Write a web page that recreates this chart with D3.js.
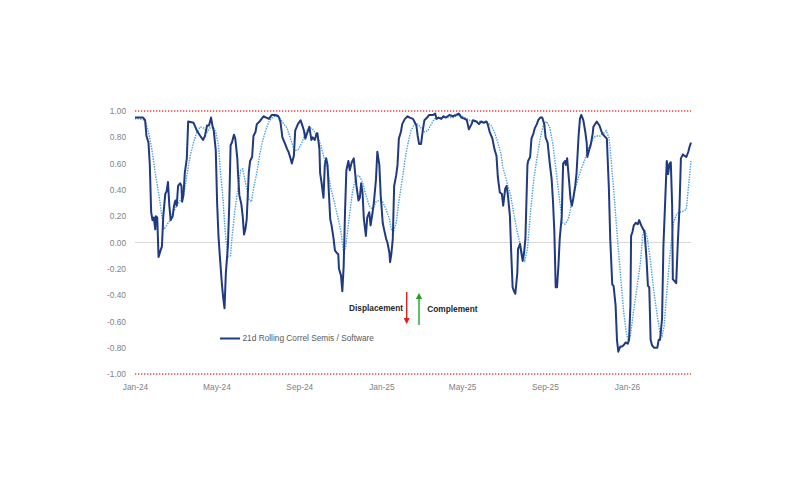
<!DOCTYPE html>
<html>
<head>
<meta charset="utf-8">
<script src="https://cdn.jsdelivr.net/npm/d3@7"></script>
<style>
  html, body { margin: 0; padding: 0; background: #fff; }
  #chart { width: 794px; height: 494px; }
  text { font-family: "Liberation Sans", Arial, sans-serif; }
</style>
</head>
<body>
<div id="chart"></div>
<script>
// 21d rolling correlation, semis vs software (solid line)
const dates = [
  "2024-01-01","2024-01-13","2024-01-16","2024-01-18","2024-01-21","2024-01-23","2024-01-25","2024-01-27","2024-01-29","2024-01-31",
  "2024-02-01","2024-02-03","2024-02-05","2024-02-08","2024-02-10","2024-02-12","2024-02-15","2024-02-17","2024-02-19","2024-02-21",
  "2024-02-23","2024-02-26","2024-02-28","2024-03-01","2024-03-03","2024-03-05","2024-03-08","2024-03-10","2024-03-11","2024-03-13",
  "2024-03-15","2024-03-18","2024-03-20","2024-03-28","2024-04-02","2024-04-07","2024-04-11","2024-04-14","2024-04-17","2024-04-20",
  "2024-04-23","2024-04-25","2024-04-27","2024-04-30","2024-05-02","2024-05-04","2024-05-06","2024-05-09","2024-05-11","2024-05-13",
  "2024-05-15","2024-05-18","2024-05-20","2024-05-22","2024-05-24","2024-05-27","2024-05-29","2024-06-01","2024-06-02","2024-06-04",
  "2024-06-07","2024-06-09","2024-06-11","2024-06-13","2024-06-15","2024-06-18","2024-06-20","2024-06-23","2024-06-25","2024-06-28",
  "2024-06-30","2024-07-04","2024-07-07","2024-07-10","2024-07-14","2024-07-18","2024-07-22","2024-07-27","2024-08-01","2024-08-04",
  "2024-08-07","2024-08-11","2024-08-14","2024-08-16","2024-08-19","2024-08-21","2024-08-24","2024-08-26","2024-08-30","2024-09-03",
  "2024-09-05","2024-09-08","2024-09-10","2024-09-14","2024-09-16","2024-09-19","2024-09-21","2024-09-24","2024-09-27","2024-09-28",
  "2024-10-01","2024-10-02","2024-10-04","2024-10-07","2024-10-09","2024-10-11","2024-10-13","2024-10-15","2024-10-17","2024-10-19",
  "2024-10-22","2024-10-24","2024-10-27","2024-10-29","2024-10-30","2024-11-02","2024-11-04","2024-11-06","2024-11-08","2024-11-10",
  "2024-11-13","2024-11-15","2024-11-18","2024-11-21","2024-11-23","2024-11-25","2024-11-28","2024-11-30","2024-12-02","2024-12-04",
  "2024-12-06","2024-12-09","2024-12-11","2024-12-14","2024-12-16","2024-12-19","2024-12-21","2024-12-24","2024-12-26","2024-12-29",
  "2024-12-31","2025-01-03","2025-01-05","2025-01-08","2025-01-10","2025-01-13","2025-01-14","2025-01-16","2025-01-18","2025-01-20",
  "2025-01-23","2025-01-25","2025-01-27","2025-01-30","2025-02-01","2025-02-05","2025-02-09","2025-02-12","2025-02-17","2025-02-19",
  "2025-02-22","2025-02-24","2025-02-26","2025-03-01","2025-03-04","2025-03-06","2025-03-10","2025-03-13","2025-03-19","2025-03-22",
  "2025-03-24","2025-03-27","2025-03-31","2025-04-03","2025-04-07","2025-04-12","2025-04-17","2025-04-22","2025-04-26","2025-04-30",
  "2025-05-05","2025-05-08","2025-05-11","2025-05-15","2025-05-17","2025-05-22","2025-05-26","2025-05-29","2025-06-02","2025-06-06",
  "2025-06-08","2025-06-11","2025-06-15","2025-06-18","2025-06-21","2025-06-23","2025-06-26","2025-06-29","2025-07-01","2025-07-04",
  "2025-07-06","2025-07-08","2025-07-11","2025-07-13","2025-07-15","2025-07-17","2025-07-19","2025-07-22","2025-07-23","2025-07-26",
  "2025-07-28","2025-07-30","2025-08-01","2025-08-03","2025-08-06","2025-08-07","2025-08-10","2025-08-12","2025-08-15","2025-08-17",
  "2025-08-20","2025-08-22","2025-08-25","2025-08-28","2025-08-31","2025-09-02","2025-09-05","2025-09-08","2025-09-11","2025-09-13",
  "2025-09-15","2025-09-17","2025-09-19","2025-09-21","2025-09-23","2025-09-26","2025-09-28","2025-10-01","2025-10-02","2025-10-04",
  "2025-10-07","2025-10-09","2025-10-11","2025-10-13","2025-10-16","2025-10-18","2025-10-21","2025-10-23","2025-10-25","2025-10-28",
  "2025-10-31","2025-11-02","2025-11-03","2025-11-06","2025-11-08","2025-11-11","2025-11-12","2025-11-17","2025-11-21","2025-11-25",
  "2025-11-30","2025-12-02","2025-12-05","2025-12-07","2025-12-10","2025-12-12","2025-12-15","2025-12-17","2025-12-19","2025-12-22",
  "2025-12-25","2025-12-27","2025-12-30","2026-01-02","2026-01-04","2026-01-06","2026-01-07","2026-01-09","2026-01-11","2026-01-14",
  "2026-01-17","2026-01-19","2026-01-22","2026-01-24","2026-01-27","2026-01-30","2026-02-01","2026-02-03","2026-02-05","2026-02-07",
  "2026-02-10","2026-02-15","2026-02-17","2026-02-19","2026-02-22","2026-02-24","2026-02-27","2026-03-01","2026-03-03","2026-03-05",
  "2026-03-07","2026-03-09","2026-03-10","2026-03-12","2026-03-15","2026-03-17","2026-03-20","2026-03-22","2026-03-25","2026-03-27",
  "2026-03-30","2026-04-02","2026-04-04","2026-04-06"
];
const corr = [
  0.95,0.95,0.93,0.81,0.76,0.59,0.23,0.17,0.19,0.10,
  0.20,0.19,-0.11,-0.06,-0.03,0.20,0.37,0.39,0.46,0.28,
  0.17,0.20,0.28,0.32,0.28,0.43,0.45,0.43,0.31,0.36,
  0.53,0.64,0.92,0.91,0.85,0.81,0.78,0.81,0.89,0.89,
  0.95,0.89,0.85,0.70,0.30,0.05,-0.10,-0.31,-0.42,-0.50,
  -0.23,-0.03,0.28,0.74,0.76,0.82,0.79,0.64,0.53,0.36,
  0.29,0.20,0.06,0.10,0.18,0.53,0.62,0.65,0.81,0.84,
  0.90,0.92,0.94,0.96,0.95,0.94,0.97,0.97,0.96,0.92,
  0.80,0.75,0.71,0.69,0.64,0.60,0.66,0.85,0.90,0.93,
  0.90,0.85,0.79,0.85,0.88,0.78,0.80,0.78,0.83,0.83,
  0.71,0.53,0.46,0.34,0.59,0.64,0.59,0.38,0.18,0.13,
  0.03,-0.06,-0.08,-0.09,-0.20,-0.25,-0.37,-0.18,0.23,0.55,
  0.62,0.55,0.61,0.64,0.53,0.43,0.32,0.34,0.45,0.38,
  0.18,0.05,0.19,0.23,0.13,0.23,0.31,0.48,0.69,0.59,
  0.36,0.15,0.10,0.03,0.00,-0.08,-0.15,-0.08,0.03,0.43,
  0.51,0.59,0.79,0.84,0.90,0.94,0.96,0.95,0.94,0.92,
  0.89,0.81,0.75,0.75,0.87,0.93,0.95,0.97,0.97,0.98,
  0.94,0.95,0.94,0.96,0.95,0.97,0.96,0.97,0.98,0.95,
  0.94,0.93,0.86,0.90,0.93,0.92,0.90,0.92,0.91,0.92,
  0.90,0.84,0.79,0.71,0.66,0.50,0.38,0.37,0.28,0.41,
  0.43,0.36,0.20,-0.09,-0.34,-0.37,-0.39,-0.23,-0.05,-0.01,
  -0.08,-0.14,-0.08,0.03,0.59,0.62,0.65,0.79,0.83,0.87,
  0.90,0.93,0.95,0.95,0.90,0.80,0.76,0.61,0.48,0.31,
  0.08,-0.34,-0.34,-0.18,0.03,0.20,0.60,0.62,0.59,0.64,
  0.46,0.33,0.28,0.33,0.43,0.53,0.81,0.94,0.97,0.93,
  0.84,0.76,0.65,0.71,0.74,0.83,0.88,0.92,0.89,0.83,
  0.80,0.79,0.41,0.03,-0.32,-0.33,-0.48,-0.74,-0.83,-0.79,
  -0.79,-0.78,-0.76,-0.77,-0.74,-0.48,0.05,0.08,0.13,0.15,
  0.14,0.17,0.13,0.11,0.08,-0.13,-0.33,-0.34,-0.74,-0.78,
  -0.80,-0.80,-0.74,-0.74,-0.58,-0.03,0.36,0.62,0.52,0.60,
  0.61,0.28,-0.28,-0.29,-0.31,-0.05,0.28,0.64,0.67,0.66,
  0.65,0.69,0.73,0.76
];

// smoothed correlation (dotted line)
const avgDates = [
  "2024-01-01","2024-01-08","2024-01-16","2024-01-21","2024-01-26","2024-01-31","2024-02-05","2024-02-10","2024-02-13","2024-02-17",
  "2024-02-22","2024-02-27","2024-03-03","2024-03-08","2024-03-13","2024-03-15","2024-03-18","2024-03-23","2024-03-28","2024-04-02",
  "2024-04-07","2024-04-12","2024-04-17","2024-04-21","2024-04-26","2024-04-30","2024-05-04","2024-05-07","2024-05-10","2024-05-14",
  "2024-05-18","2024-05-22","2024-05-24","2024-05-28","2024-06-01","2024-06-06","2024-06-09","2024-06-13","2024-06-18","2024-06-22",
  "2024-06-25","2024-06-30","2024-07-04","2024-07-08","2024-07-13","2024-07-18","2024-07-23","2024-07-30","2024-08-04","2024-08-09",
  "2024-08-14","2024-08-19","2024-08-24","2024-08-27","2024-08-31","2024-09-05","2024-09-10","2024-09-15","2024-09-20","2024-09-25",
  "2024-09-28","2024-10-03","2024-10-08","2024-10-13","2024-10-18","2024-10-23","2024-10-28","2024-11-02","2024-11-06","2024-11-09",
  "2024-11-14","2024-11-19","2024-11-24","2024-11-29","2024-12-04","2024-12-09","2024-12-14","2024-12-19","2024-12-24","2024-12-29",
  "2025-01-03","2025-01-08","2025-01-13","2025-01-16","2025-01-19","2025-01-23","2025-01-27","2025-02-01","2025-02-06","2025-02-11",
  "2025-02-14","2025-02-19","2025-02-24","2025-03-01","2025-03-06","2025-03-11","2025-03-16","2025-03-21","2025-03-28","2025-04-07",
  "2025-04-17","2025-04-27","2025-05-05","2025-05-12","2025-05-19","2025-05-27","2025-06-06","2025-06-13","2025-06-18","2025-06-23",
  "2025-06-28","2025-06-30","2025-07-05","2025-07-09","2025-07-12","2025-07-16","2025-07-21","2025-07-26","2025-07-30","2025-08-02",
  "2025-08-06","2025-08-10","2025-08-15","2025-08-20","2025-08-25","2025-08-29","2025-09-03","2025-09-08","2025-09-13","2025-09-18",
  "2025-09-23","2025-09-27","2025-10-01","2025-10-06","2025-10-11","2025-10-16","2025-10-21","2025-10-25","2025-10-31","2025-11-04",
  "2025-11-09","2025-11-12","2025-11-17","2025-11-22","2025-11-27","2025-12-01","2025-12-05","2025-12-07","2025-12-12","2025-12-17",
  "2025-12-22","2025-12-27","2025-12-31","2026-01-03","2026-01-06","2026-01-11","2026-01-16","2026-01-21","2026-01-24","2026-01-27",
  "2026-01-31","2026-02-05","2026-02-10","2026-02-15","2026-02-19","2026-02-22","2026-02-25","2026-03-01","2026-03-06","2026-03-11",
  "2026-03-16","2026-03-21","2026-03-26","2026-03-30","2026-04-02","2026-04-06"
];
const corrAvg = [
  0.94,0.94,0.93,0.84,0.71,0.53,0.38,0.20,0.10,0.13,
  0.17,0.23,0.28,0.32,0.37,0.41,0.51,0.66,0.76,0.84,
  0.88,0.87,0.84,0.87,0.88,0.84,0.74,0.53,0.38,0.08,
  -0.11,-0.10,0.03,0.23,0.38,0.55,0.56,0.46,0.33,0.31,
  0.41,0.53,0.66,0.76,0.85,0.92,0.95,0.97,0.94,0.90,
  0.87,0.79,0.71,0.70,0.71,0.76,0.83,0.87,0.87,0.83,
  0.81,0.74,0.64,0.56,0.41,0.31,0.20,0.08,-0.08,-0.03,
  0.18,0.38,0.50,0.51,0.46,0.36,0.28,0.25,0.31,0.32,
  0.31,0.25,0.18,0.09,0.08,0.15,0.31,0.48,0.66,0.79,
  0.85,0.90,0.90,0.87,0.84,0.85,0.90,0.94,0.95,0.95,
  0.95,0.97,0.95,0.93,0.92,0.92,0.92,0.89,0.84,0.76,
  0.67,0.58,0.49,0.41,0.36,0.24,0.10,-0.01,-0.11,-0.14,
  -0.05,0.20,0.46,0.64,0.79,0.88,0.92,0.88,0.74,0.53,
  0.31,0.15,0.14,0.18,0.31,0.41,0.50,0.56,0.64,0.71,
  0.76,0.80,0.81,0.81,0.83,0.85,0.80,0.71,0.41,0.08,
  -0.23,-0.53,-0.69,-0.75,-0.71,-0.51,-0.33,-0.15,0.05,0.10,
  0.04,-0.15,-0.38,-0.56,-0.69,-0.71,-0.64,-0.38,-0.08,0.15,
  0.22,0.23,0.24,0.25,0.41,0.62
];

const yTicks = [-1, -0.8, -0.6, -0.4, -0.2, 0, 0.2, 0.4, 0.6, 0.8, 1];
const xTicks = ["2024-01-01","2024-05-01","2024-09-01","2025-01-01","2025-05-01","2025-09-01","2026-01-01"];
const bounds = [1, -1];
const legendLabel = "21d Rolling Correl Semis / Software";
const downLabel = "Displacement";
const upLabel = "Complement";

const width = 794, height = 494;
const parse = d3.timeParse("%Y-%m-%d");
const series = dates.map((d, i) => ({ date: parse(d), value: corr[i] }));
const avgSeries = avgDates.map((d, i) => ({ date: parse(d), value: corrAvg[i] }));

const svg = d3.select("#chart")
  .append("svg")
  .attr("width", width)
  .attr("height", height);

const x = d3.scaleTime()
  .domain([series[0].date, series[series.length - 1].date])
  .range([135, 691]);

const y = d3.scaleLinear()
  .domain([-1, 1])
  .range([374, 111]);

const fmt = d3.formatLocale({ decimal: ".", thousands: ",", grouping: [3], currency: ["", ""], minus: "-" }).format(".2f");

// y axis labels
const yAxis = svg.append("g")
  .attr("transform", `translate(${x.range()[0]},0)`)
  .call(d3.axisLeft(y).tickValues(yTicks).tickSize(0).tickPadding(9).tickFormat(fmt));
yAxis.select(".domain").remove();

// x axis labels
const xAxis = svg.append("g")
  .attr("transform", `translate(0,${y(-1)})`)
  .call(d3.axisBottom(x).tickValues(xTicks.map(parse)).tickSize(0).tickPadding(10).tickFormat(d3.timeFormat("%b-%y")));
xAxis.select(".domain").remove();

svg.selectAll(".tick text")
  .attr("fill", "#7f7f7f")
  .style("font-size", "8.3px");

// zero line
svg.append("line")
  .attr("x1", x.range()[0]).attr("x2", x.range()[1])
  .attr("y1", y(0)).attr("y2", y(0))
  .attr("stroke", "#d9d9d9")
  .attr("stroke-width", 1);

// +/-1 bounds
svg.selectAll(".bound")
  .data(bounds)
  .enter()
  .append("line")
  .attr("class", "bound")
  .attr("x1", x.range()[0]).attr("x2", x.range()[1])
  .attr("y1", d => y(d)).attr("y2", d => y(d))
  .attr("stroke", "#e8413c")
  .attr("stroke-width", 1.3)
  .attr("stroke-dasharray", "1.3,1.7");

const line = d3.line()
  .x(d => x(d.date))
  .y(d => y(d.value));

svg.append("path")
  .datum(avgSeries)
  .attr("fill", "none")
  .attr("stroke", "#4a9ee0")
  .attr("stroke-width", 1.4)
  .attr("stroke-dasharray", "1.4,1.2")
  .attr("d", line);

svg.append("path")
  .datum(series)
  .attr("fill", "none")
  .attr("stroke", "#1f3a80")
  .attr("stroke-width", 2)
  .attr("stroke-linejoin", "round")
  .attr("d", line);

// legend
svg.append("line")
  .attr("x1", 220).attr("x2", 240)
  .attr("y1", 338.5).attr("y2", 338.5)
  .attr("stroke", "#1f3a80")
  .attr("stroke-width", 2);
svg.append("text")
  .attr("x", 242.5).attr("y", 341.3)
  .attr("fill", "#595959")
  .style("font-size", "8.3px")
  .text(legendLabel);

// annotation arrows
const defs = svg.append("defs");
[["down", "#e0201b"], ["up", "#1fa32a"]].forEach(([id, c]) => {
  defs.append("marker")
    .attr("id", "head-" + id)
    .attr("viewBox", "0 0 10 10")
    .attr("refX", 5).attr("refY", 5)
    .attr("markerWidth", 4.5).attr("markerHeight", 4.5)
    .attr("orient", "auto")
    .append("path")
    .attr("d", "M0,0 L10,5 L0,10 Z")
    .attr("fill", c);
});

svg.append("line")
  .attr("x1", 406.7).attr("x2", 406.7)
  .attr("y1", 292).attr("y2", 321)
  .attr("stroke", "#e0201b")
  .attr("stroke-width", 1.4)
  .attr("marker-end", "url(#head-down)");
svg.append("line")
  .attr("x1", 419).attr("x2", 419)
  .attr("y1", 325).attr("y2", 296)
  .attr("stroke", "#1fa32a")
  .attr("stroke-width", 1.4)
  .attr("marker-end", "url(#head-up)");

svg.append("text")
  .attr("x", 403).attr("y", 310.6)
  .attr("text-anchor", "end")
  .attr("fill", "#262626")
  .style("font-size", "8.3px")
  .style("font-weight", "bold")
  .text(downLabel);
svg.append("text")
  .attr("x", 427.3).attr("y", 312.2)
  .attr("fill", "#262626")
  .style("font-size", "8.3px")
  .style("font-weight", "bold")
  .text(upLabel);
</script>
</body>
</html>
